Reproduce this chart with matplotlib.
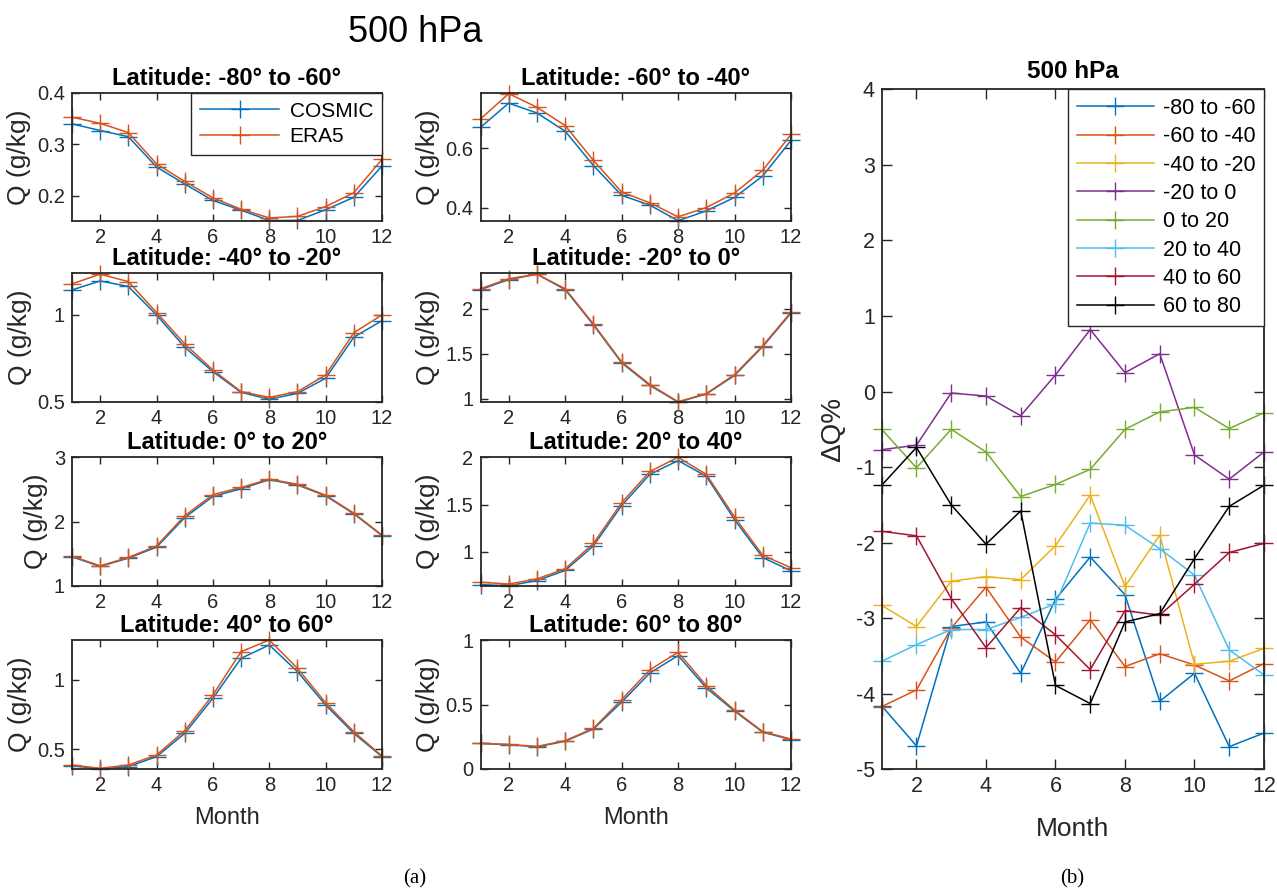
import matplotlib
matplotlib.use('Agg')
import matplotlib.pyplot as plt
from matplotlib.ticker import FuncFormatter, FixedLocator

plt.rcParams['font.family'] = ['Liberation Sans', 'DejaVu Sans']

months = list(range(1, 13))

# ---- panel (a): monthly specific humidity, 500 hPa ----
band_titles = ['Latitude: -80° to -60°', 'Latitude: -60° to -40°',
               'Latitude: -40° to -20°', 'Latitude: -20° to 0°',
               'Latitude: 0° to 20°', 'Latitude: 20° to 40°',
               'Latitude: 40° to 60°', 'Latitude: 60° to 80°']

cosmic_m80 = [0.340, 0.327, 0.315, 0.256, 0.223, 0.191, 0.172, 0.152, 0.152, 0.173, 0.197, 0.258]
era5_m80 = [0.353, 0.341, 0.323, 0.262, 0.228, 0.196, 0.174, 0.157, 0.160, 0.179, 0.206, 0.271]

cosmic_m60 = [0.670, 0.751, 0.718, 0.657, 0.542, 0.442, 0.409, 0.357, 0.390, 0.435, 0.507, 0.626]
era5_m60 = [0.698, 0.783, 0.737, 0.676, 0.559, 0.453, 0.417, 0.370, 0.401, 0.450, 0.526, 0.646]

cosmic_m40 = [1.144, 1.196, 1.164, 1.000, 0.814, 0.673, 0.554, 0.514, 0.548, 0.635, 0.872, 0.967]
era5_m40 = [1.179, 1.235, 1.192, 1.014, 0.833, 0.683, 0.558, 0.525, 0.558, 0.654, 0.898, 1.000]

cosmic_m20 = [2.21, 2.32, 2.38, 2.21, 1.82, 1.40, 1.15, 0.965, 1.055, 1.26, 1.58, 1.95]
era5_m20 = [2.22, 2.33, 2.38, 2.22, 1.83, 1.41, 1.16, 0.970, 1.060, 1.27, 1.59, 1.96]

cosmic_p0 = [1.45, 1.30, 1.43, 1.60, 2.06, 2.39, 2.51, 2.65, 2.57, 2.40, 2.12, 1.78]
era5_p0 = [1.46, 1.31, 1.44, 1.62, 2.09, 2.42, 2.53, 2.66, 2.58, 2.41, 2.13, 1.79]

cosmic_p20 = [0.654, 0.643, 0.697, 0.804, 1.064, 1.49, 1.82, 1.965, 1.80, 1.34, 0.94, 0.80]
era5_p20 = [0.679, 0.661, 0.715, 0.822, 1.090, 1.52, 1.85, 2.000, 1.82, 1.37, 0.964, 0.833]

cosmic_p40 = [0.382, 0.358, 0.375, 0.447, 0.615, 0.868, 1.156, 1.252, 1.060, 0.819, 0.615, 0.447]
era5_p40 = [0.387, 0.363, 0.387, 0.459, 0.634, 0.892, 1.204, 1.288, 1.084, 0.836, 0.627, 0.452]

cosmic_p60 = [0.198, 0.188, 0.172, 0.215, 0.310, 0.518, 0.744, 0.879, 0.628, 0.449, 0.285, 0.228]
era5_p60 = [0.200, 0.190, 0.175, 0.220, 0.315, 0.538, 0.769, 0.905, 0.646, 0.456, 0.290, 0.232]

cosmic_all = [cosmic_m80, cosmic_m60, cosmic_m40, cosmic_m20, cosmic_p0, cosmic_p20, cosmic_p40, cosmic_p60]
era5_all = [era5_m80, era5_m60, era5_m40, era5_m20, era5_p0, era5_p20, era5_p40, era5_p60]

ylims = [(0.151, 0.4), (0.356, 0.785), (0.5, 1.24), (0.97, 2.39),
         (1.0, 3.0), (0.643, 2.0), (0.358, 1.288), (0.0, 1.0)]
yticks = [[0.2, 0.3, 0.4], [0.4, 0.6], [0.5, 1.0], [1.0, 1.5, 2.0],
          [1, 2, 3], [1.0, 1.5, 2.0], [0.5, 1.0], [0, 0.5, 1]]

# ---- panel (b): relative difference ----
dq_labels = ['-80 to -60', '-60 to -40', '-40 to -20', '-20 to 0',
             '0 to 20', '20 to 40', '40 to 60', '60 to 80']
dq_m80 = [-4.16, -4.69, -3.11, -3.05, -3.73, -2.75, -2.19, -2.69, -4.10, -3.73, -4.70, -4.52]
dq_m60 = [-4.17, -3.95, -3.13, -2.59, -3.25, -3.58, -3.02, -3.64, -3.47, -3.62, -3.83, -3.60]
dq_m40 = [-2.83, -3.11, -2.51, -2.45, -2.49, -2.04, -1.37, -2.58, -1.90, -3.61, -3.57, -3.40]
dq_m20 = [-0.77, -0.71, -0.02, -0.06, -0.32, 0.22, 0.82, 0.25, 0.50, -0.84, -1.16, -0.80]
dq_p0 = [-0.50, -1.01, -0.50, -0.80, -1.39, -1.23, -1.03, -0.50, -0.27, -0.21, -0.49, -0.28]
dq_p20 = [-3.57, -3.35, -3.15, -3.15, -2.99, -2.81, -1.74, -1.77, -2.08, -2.43, -3.42, -3.75]
dq_p40 = [-1.85, -1.91, -2.74, -3.39, -2.86, -3.22, -3.68, -2.90, -2.96, -2.55, -2.13, -2.01]
dq_p60 = [-1.24, -0.74, -1.50, -2.02, -1.58, -3.89, -4.13, -3.05, -2.94, -2.21, -1.52, -1.24]
dq_all = [dq_m80, dq_m60, dq_m40, dq_m20, dq_p0, dq_p20, dq_p40, dq_p60]

mcolors = ['#0072BD', '#D95319', '#EDB120', '#7E2F8E', '#77AC30', '#4DBEEE', '#A2142F', '#000000']
axc = '#262626'

fmt = FuncFormatter(lambda v, p: ('%g' % v))

W, H = 1277, 890
fig = plt.figure(figsize=(W / 100, H / 100), dpi=100)

def box(x0, y0, x1, y1):
    return [x0 / W, 1 - y1 / H, (x1 - x0) / W, (y1 - y0) / H]

col_x = [(72, 382), (480.5, 791)]
row_y = [(93, 221), (273.3, 401.7), (457.3, 585.7), (640, 769)]

def style(ax, ticklen, tsize):
    for s in ax.spines.values():
        s.set_color(axc)
        s.set_linewidth(1.3)
    ax.tick_params(direction='in', top=True, right=True, length=ticklen, width=1,
                   colors=axc, labelsize=tsize, pad=5)

for i in range(8):
    r, c = divmod(i, 2)
    ax = fig.add_axes(box(col_x[c][0], row_y[r][0], col_x[c][1], row_y[r][1]))
    ax.plot(months, cosmic_all[i], color=mcolors[0], lw=1.1, marker='+', ms=13, mew=1.0,
            clip_on=False, label='COSMIC')
    ax.plot(months, era5_all[i], color=mcolors[1], lw=1.1, marker='+', ms=13, mew=1.0,
            clip_on=False, label='ERA5')
    ax.set_xlim(1, 12)
    ax.set_ylim(*ylims[i])
    ax.xaxis.set_major_locator(FixedLocator([2, 4, 6, 8, 10, 12]))
    ax.yaxis.set_major_locator(FixedLocator(yticks[i]))
    ax.yaxis.set_major_formatter(fmt)
    style(ax, 5, 14.5)
    ax.set_title(band_titles[i], fontsize=17, fontweight='bold', pad=6)
    ax.set_ylabel('Q (g/kg)', fontsize=19, color=axc, labelpad=4)
    if r == 3:
        ax.set_xlabel('Month', fontsize=17, color=axc, labelpad=9)
    if i == 0:
        leg = ax.legend(loc='upper right', fontsize=15, borderaxespad=0,
                        fancybox=False, framealpha=1, edgecolor=axc,
                        handlelength=3.8, labelspacing=0.3, borderpad=0.42,
                        handletextpad=0.5)
        leg.get_frame().set_linewidth(1.0)

# right panel
axr = fig.add_axes(box(881.7, 89.3, 1264, 769.3))
for lab, vals, col in zip(dq_labels, dq_all, mcolors):
    axr.plot(months, vals, color=col, lw=1.1, marker='+', ms=13, mew=1.0,
             clip_on=False, label=lab)
axr.set_xlim(1, 12)
axr.set_ylim(-5, 4)
axr.xaxis.set_major_locator(FixedLocator([2, 4, 6, 8, 10, 12]))
axr.yaxis.set_major_locator(FixedLocator(list(range(-5, 5))))
axr.yaxis.set_major_formatter(fmt)
style(axr, 7, 15.5)
axr.set_title('500 hPa', fontsize=17.5, fontweight='bold', pad=8)
axr.set_xlabel('Month', fontsize=19, color=axc, labelpad=14)
axr.set_ylabel('ΔQ%', fontsize=20, color=axc)
axr.yaxis.set_label_coords(-36 / 382.3, 0.5)
leg = axr.legend(loc='upper right', fontsize=15.5, borderaxespad=0,
                 fancybox=False, framealpha=1, edgecolor=axc,
                 handlelength=3.6, labelspacing=0.34, borderpad=0.4,
                 handletextpad=0.4)
leg.get_frame().set_linewidth(1.0)

fig.text(415 / W, 1 - 32 / H, '500 hPa', fontsize=26, ha='center', va='center')
fig.text(415 / W, 1 - 879 / H, '(a)', fontsize=15, ha='center', va='center',
         family='Liberation Serif')
fig.text(1072 / W, 1 - 879 / H, '(b)', fontsize=15, ha='center', va='center',
         family='Liberation Serif')

fig.savefig('out.png', dpi=100)
